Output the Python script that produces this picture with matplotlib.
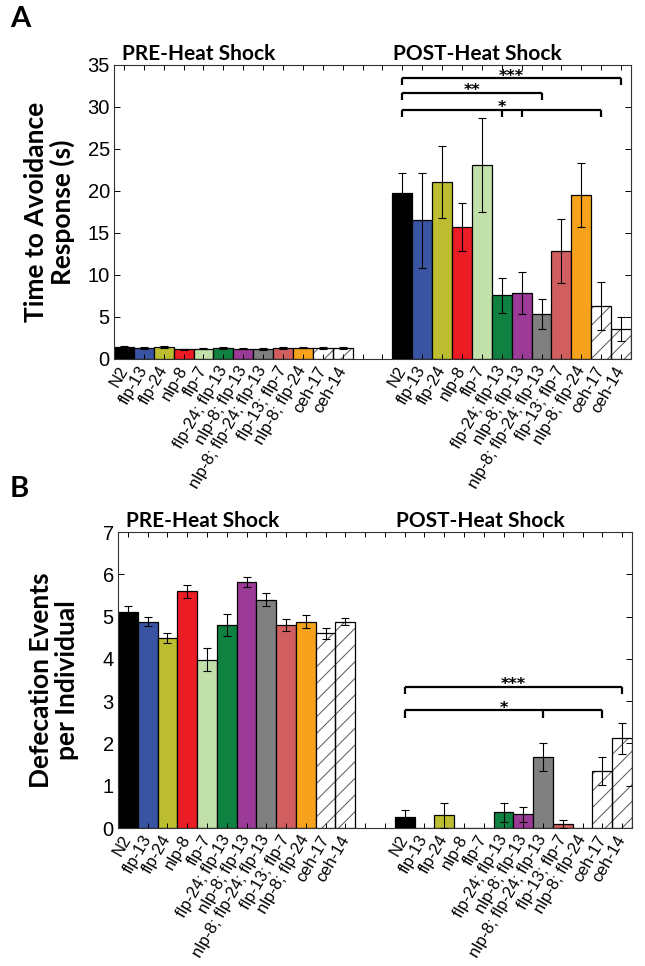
import numpy as np
import matplotlib.pyplot as plt
import matplotlib.transforms as mtransforms

# strains, same order in every group
strains = ['N2', 'flp-13', 'flp-24', 'nlp-8', 'flp-7', 'flp-24; flp-13',
           'nlp-8; flp-13', 'nlp-8; flp-24; flp-13', 'flp-13; flp-7',
           'nlp-8; flp-24', 'ceh-17', 'ceh-14']
bar_colors = ['#000000', '#3a54a4', '#bcbd30', '#ec1c24', '#c2e0aa', '#0f8140',
              '#9b3b97', '#808080', '#d25f5f', '#f7a21c', 'white', 'white']
hatched = [False] * 10 + [True, True]

# A: time to avoidance response (s)
avoid_pre = [1.45, 1.35, 1.4, 1.15, 1.25, 1.3, 1.25, 1.2, 1.35, 1.35, 1.35, 1.3]
avoid_pre_err = [0.08, 0.1, 0.12, 0.07, 0.1, 0.08, 0.07, 0.07, 0.1, 0.08, 0.12, 0.1]
avoid_post = [19.8, 16.5, 21.1, 15.7, 23.1, 7.6, 7.8, 5.4, 12.9, 19.5, 6.3, 3.6]
avoid_post_err = [2.4, 5.7, 4.3, 2.9, 5.6, 2.1, 2.5, 1.8, 3.8, 3.8, 2.9, 1.4]

# B: defecation events per individual
defec_pre = [5.1, 4.88, 4.5, 5.6, 3.98, 4.8, 5.81, 5.4, 4.8, 4.88, 4.6, 4.88]
defec_pre_err = [0.14, 0.1, 0.12, 0.15, 0.27, 0.25, 0.12, 0.15, 0.15, 0.16, 0.12, 0.08]
defec_post = [0.27, 0.0, 0.30, 0.0, 0.0, 0.37, 0.32, 1.68, 0.10, 0.0, 1.35, 2.12]
defec_post_err = [0.16, 0.0, 0.30, 0.0, 0.0, 0.23, 0.17, 0.34, 0.09, 0.0, 0.33, 0.36]

# significance brackets: (compared strain indices, bracket height, label)
sig_A = [([5, 6, 10], 29.7, '*'), ([7], 31.7, '**'), ([11], 33.4, '***')]
sig_B = [([7, 10], 2.78, '*'), ([11], 3.33, '***')]

pre_x = np.arange(1, 13)
post_x = np.arange(15, 27)

TICKFONT = 'Liberation Sans'
HEADFONT = 'Lato'

plt.rcParams['hatch.linewidth'] = 0.7


def draw_panel(ax, pre, pre_err, post, post_err, ymax, sigs, ylabel):
    for xs, vals, errs in [(pre_x, pre, pre_err), (post_x, post, post_err)]:
        vals = np.array(vals)
        errs = np.array(errs)
        for x, v, c, h in zip(xs, vals, bar_colors, hatched):
            if h:
                ax.bar(x, v, width=1.0, color='white', edgecolor='#555555',
                       hatch='//', linewidth=0, zorder=1)
                ax.bar(x, v, width=1.0, fill=False, edgecolor='black',
                       linewidth=0.9, zorder=1.2)
            else:
                ax.bar(x, v, width=1.0, color=c, edgecolor='black',
                       linewidth=0.9, zorder=1)
        keep = errs > 0
        ax.errorbar(xs[keep], vals[keep], yerr=errs[keep], fmt='none',
                    ecolor='black', elinewidth=0.8, capsize=3, capthick=0.8,
                    zorder=3)

    leg = 0.024 * ymax
    for ends, y, label in sigs:
        x0 = post_x[0]
        x1 = post_x[max(ends)]
        ax.plot([x0, x1], [y, y], color='black', lw=1.6, zorder=4,
                solid_capstyle='butt')
        for e in [0] + ends:
            ax.plot([post_x[e], post_x[e]], [y, y - leg], color='black',
                    lw=1.6, zorder=4, solid_capstyle='butt')
        ax.text((x0 + x1) / 2, y - 0.3 * leg, label, ha='center',
                va='baseline', fontsize=11.5, fontweight='bold',
                family='DejaVu Sans')

    ax.set_xlim(0.5, 26.5)
    ax.set_ylim(0, ymax)
    ticks = np.arange(1, 27)
    labels = strains + ['', ''] + strains
    ax.set_xticks(ticks)
    ax.set_xticklabels(labels, rotation=60, ha='right', va='center',
                       rotation_mode='anchor', fontsize=12, family=TICKFONT)
    ax.tick_params(axis='x', direction='in', top=True, length=3.5,
                   width=0.7, pad=6)
    ax.tick_params(axis='y', direction='in', right=True, length=4,
                   width=0.7, pad=3)
    for sp in ax.spines.values():
        sp.set_linewidth(0.8)
        sp.set_color('#333333')

    trans = mtransforms.blended_transform_factory(ax.transData, ax.transAxes)
    ax.text(0.9, 1.018, 'PRE-Heat Shock', transform=trans, ha='left',
            va='baseline', fontsize=15, fontweight='bold', family=HEADFONT)
    ax.text(14.55, 1.018, 'POST-Heat Shock', transform=trans, ha='left',
            va='baseline', fontsize=15, fontweight='bold', family=HEADFONT)
    ax.set_ylabel(ylabel, fontsize=19, fontweight='bold', family=HEADFONT,
                  linespacing=1.1)
    ax.yaxis.set_label_coords(-0.075, 0.5)


fig = plt.figure(figsize=(6.45, 9.66), dpi=100)
axA = fig.add_axes([114 / 645, 1 - 359 / 966, 517 / 645, 294 / 966])
axB = fig.add_axes([118 / 645, 1 - 828 / 966, 514 / 645, 296 / 966])

draw_panel(axA, avoid_pre, avoid_pre_err, avoid_post, avoid_post_err, 35,
           sig_A, 'Time to Avoidance\nResponse (s)')
axA.set_yticks(np.arange(0, 36, 5))
draw_panel(axB, defec_pre, defec_pre_err, defec_post, defec_post_err, 7,
           sig_B, 'Defecation Events\nper Individual')
axB.set_yticks(np.arange(0, 8, 1))
for ax in (axA, axB):
    for lab in ax.get_yticklabels():
        lab.set_family(TICKFONT)
        lab.set_fontsize(14.5)

fig.text(10 / 645, 1 - 6 / 966, 'A', ha='left', va='top', fontsize=21,
         fontweight='bold', family=HEADFONT)
fig.text(10 / 645, 1 - 476 / 966, 'B', ha='left', va='top', fontsize=21,
         fontweight='bold', family=HEADFONT)

fig.savefig('out.png', dpi=100)
